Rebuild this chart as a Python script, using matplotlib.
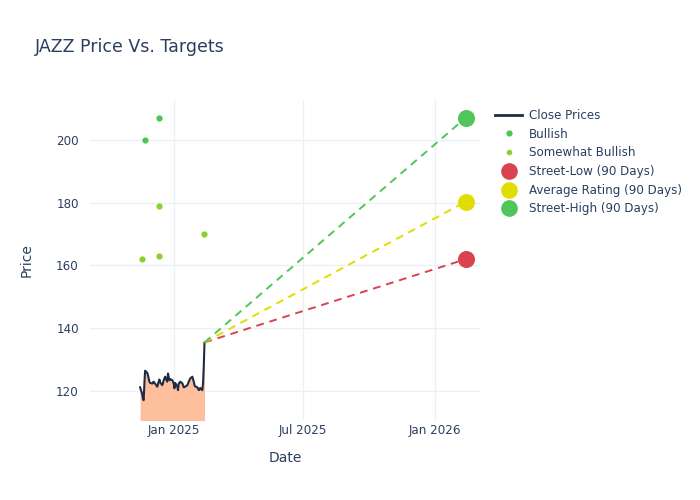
import pandas as pd
import matplotlib.pyplot as plt
from matplotlib.lines import Line2D

# Close prices (business days, Nov 15 2024 - Feb 13 2025)
close_dates = pd.bdate_range('2024-11-15', '2025-02-13')
close_prices = [
    121.2, 119.0, 117.5, 117.1, 122.5, 126.5, 125.8, 125.1, 124.0, 123.0,
    122.6, 122.4, 122.8, 123.0, 122.6, 122.4, 121.4, 122.2, 123.0, 123.7,
    122.8, 121.9, 122.6, 123.5, 124.0, 124.6, 123.0, 125.6, 124.5, 123.5,
    123.8, 123.5, 123.0, 122.4, 120.9, 122.6, 121.5, 120.3, 122.4, 122.6,
    123.0, 122.5, 121.9, 121.2, 121.3, 121.4, 121.9, 122.4, 123.0, 123.5,
    124.0, 124.6, 123.8, 123.0, 121.9, 121.5, 121.2, 120.8, 120.3, 120.5,
    121.0, 120.3, 122.5, 128.0, 135.5,
]

# Analyst ratings
bullish_dates = pd.to_datetime(['2024-11-22', '2024-12-12'])
bullish_prices = [200, 207]
sw_bullish_dates = pd.to_datetime(['2024-11-18', '2024-12-12', '2024-12-12', '2025-02-13'])
sw_bullish_prices = [162, 179, 163, 170]

# 90-day targets
target_date = pd.Timestamp('2026-02-13')
street_low = 162
avg_rating = 180.3
street_high = 207

c_text = '#2a3f5f'
c_grid = '#ebf0f8'
c_line = '#1f2a44'
c_fill = '#fdbf9c'
c_bull = '#4cc552'
c_swbull = '#8bd12c'
c_low = '#d9434f'
c_avg = '#e0dd00'
c_high = '#4fc55a'

plt.rcParams['font.family'] = 'DejaVu Sans'

fig = plt.figure(figsize=(7, 5), dpi=100)
ax = fig.add_axes([0.1286, 0.16, 0.557, 0.64])

ax.fill_between(close_dates, close_prices, 0, color=c_fill, lw=0, zorder=2)
ax.plot(close_dates, close_prices, color=c_line, lw=1.5, zorder=3)

last_date = close_dates[-1]
last_price = close_prices[-1]
for val, col in [(street_low, c_low), (avg_rating, c_avg), (street_high, c_high)]:
    ax.plot([last_date, target_date], [last_price, val], color=col, lw=1.4,
            ls=(0, (4, 3)), zorder=3)
    ax.scatter([target_date], [val], s=150, color=col, lw=0, zorder=4)

ax.scatter(bullish_dates, bullish_prices, s=20, color=c_bull, lw=0, zorder=4)
ax.scatter(sw_bullish_dates, sw_bullish_prices, s=20, color=c_swbull, lw=0, zorder=4)

ax.set_xlim(pd.Timestamp('2024-09-06'), pd.Timestamp('2026-03-05'))
ax.set_ylim(110.8, 212.7)
ax.set_yticks([120, 140, 160, 180, 200])
xt = pd.to_datetime(['2025-01-01', '2025-07-01', '2026-01-01'])
ax.set_xticks(xt)
ax.set_xticklabels(['Jan 2025', 'Jul 2025', 'Jan 2026'])

ax.grid(True, color=c_grid, lw=1, zorder=0)
ax.set_axisbelow(True)
for s in ax.spines.values():
    s.set_visible(False)
ax.tick_params(length=0, colors=c_text, labelsize=8.6)
ax.tick_params(axis='x', pad=3)
ax.tick_params(axis='y', pad=8)

ax.set_xlabel('Date', color=c_text, fontsize=10, labelpad=10)
ax.set_ylabel('Price', color=c_text, fontsize=10, labelpad=16)

fig.text(0.05, 0.895, 'JAZZ Price Vs. Targets', color=c_text, fontsize=12.5, va='baseline')

handles = [
    Line2D([], [], color=c_line, lw=2),
    Line2D([], [], ls='', marker='o', ms=4.5, color=c_bull, mew=0),
    Line2D([], [], ls='', marker='o', ms=4, color=c_swbull, mew=0),
    Line2D([], [], ls='', marker='o', ms=12, color=c_low, mew=0),
    Line2D([], [], ls='', marker='o', ms=12, color=c_avg, mew=0),
    Line2D([], [], ls='', marker='o', ms=12, color=c_high, mew=0),
]
labels = ['Close Prices', 'Bullish', 'Somewhat Bullish', 'Street-Low (90 Days)',
          'Average Rating (90 Days)', 'Street-High (90 Days)']
leg = fig.legend(handles, labels, loc='upper left', bbox_to_anchor=(0.701, 0.792),
                 frameon=False, fontsize=8.6, labelspacing=0.48, handlelength=2.2,
                 handletextpad=0.6, borderaxespad=0)
for t in leg.get_texts():
    t.set_color(c_text)

fig.savefig('out.png', dpi=100)
